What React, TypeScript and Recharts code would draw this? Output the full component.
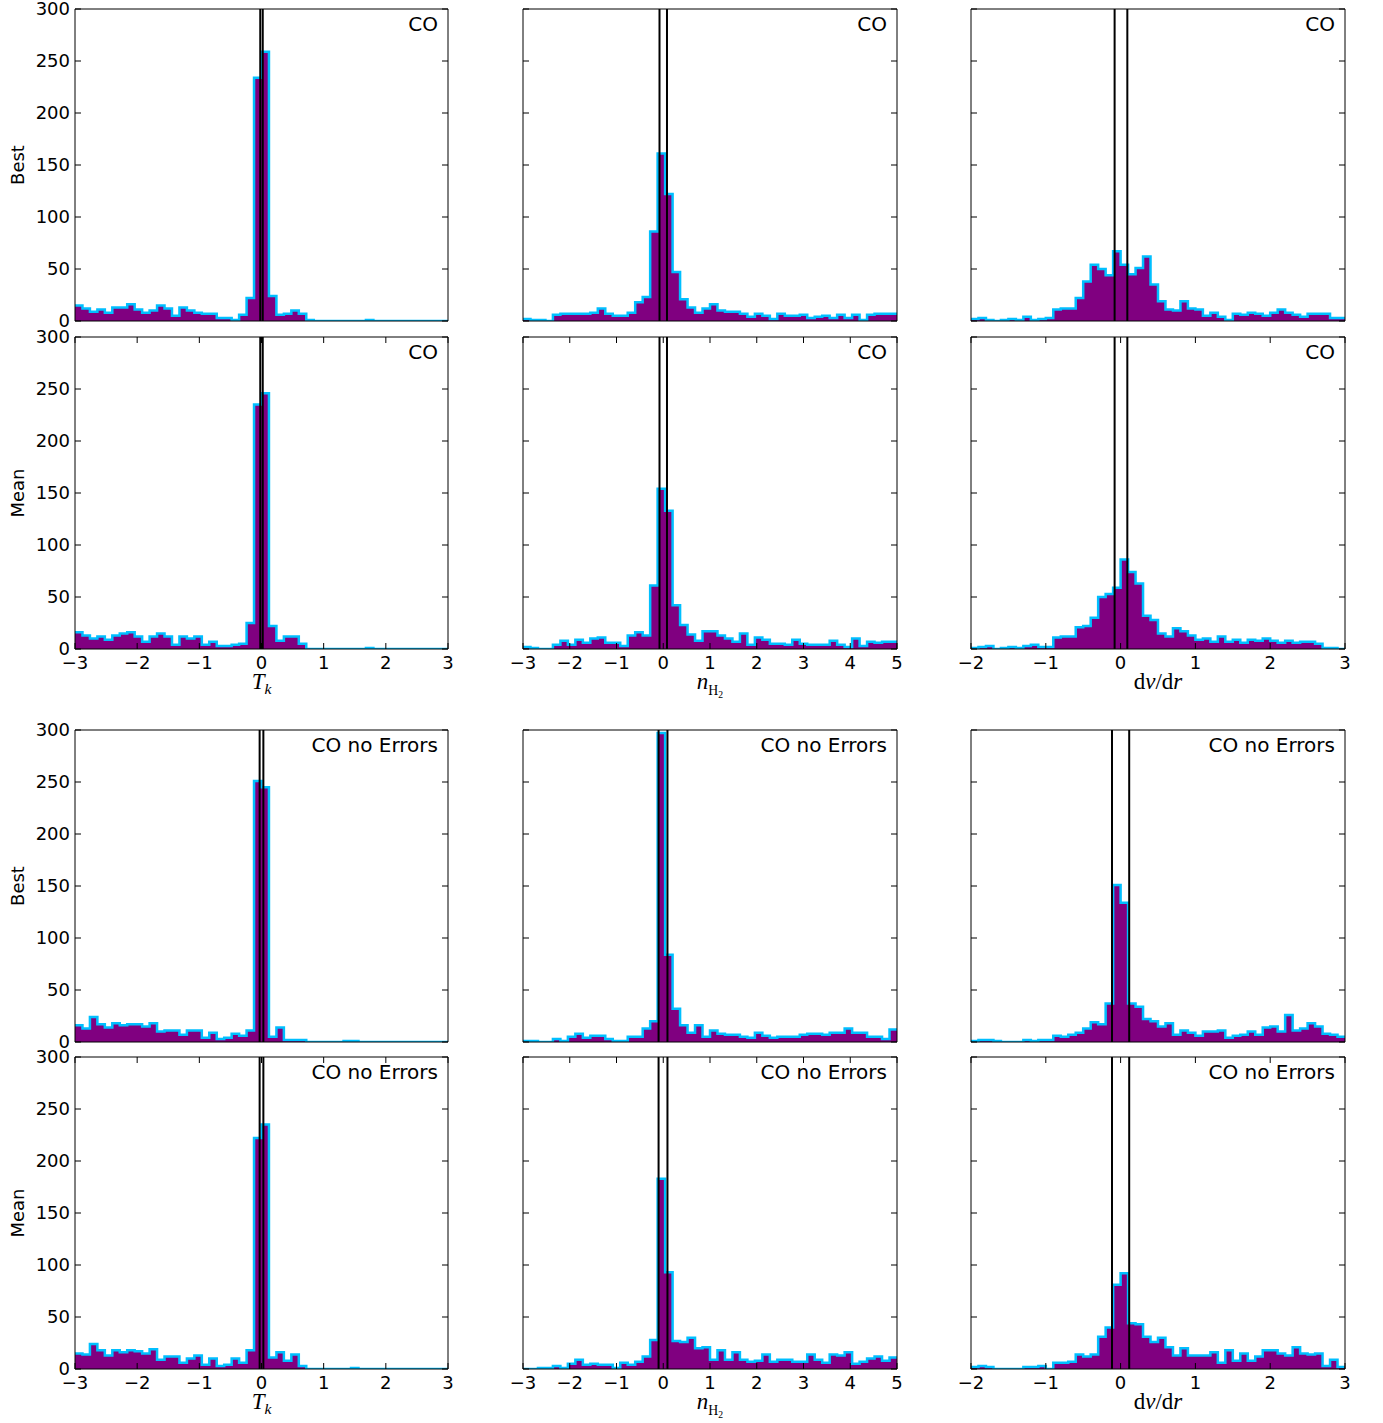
import React from "react";
import { ComposedChart, Area, XAxis, YAxis, ReferenceLine } from "recharts";

// axis ranges and tick labels
const tkRange = [-3, 3];
const nh2Range = [-3, 5];
const dvdrRange = [-2, 3];
const tkTicks = [-3, -2, -1, 0, 1, 2, 3];
const nh2Ticks = [-3, -2, -1, 0, 1, 2, 3, 4, 5];
const dvdrTicks = [-2, -1, 0, 1, 2, 3];
const countTicks = [0, 50, 100, 150, 200, 250, 300];

// histogram counts, 50 equal bins over each range
const bestTkCO = [15, 12, 9, 11, 8, 13, 13, 16, 11, 8, 10, 15, 12, 5, 13, 10, 8, 7, 7, 3, 3, 1, 6, 22, 234, 259, 24, 6, 7, 10, 7, 1, 0, 0, 0, 0, 0, 0, 0, 1, 0, 0, 0, 0, 0, 0, 0, 0, 0, 0];
const bestNh2CO = [2, 1, 1, 0, 6, 7, 7, 7, 7, 8, 12, 7, 5, 5, 8, 18, 23, 86, 161, 122, 47, 21, 13, 8, 12, 16, 10, 9, 9, 7, 4, 7, 5, 2, 7, 5, 5, 6, 3, 4, 5, 3, 6, 3, 6, 1, 6, 7, 7, 7];
const bestDvdrCO = [2, 3, 1, 0, 1, 2, 1, 4, 1, 2, 3, 11, 12, 12, 22, 38, 54, 50, 44, 67, 54, 45, 51, 62, 35, 19, 11, 10, 19, 12, 11, 5, 8, 4, 1, 7, 6, 8, 7, 5, 8, 11, 8, 6, 4, 7, 7, 7, 3, 3];
const meanTkCO = [16, 13, 10, 12, 9, 13, 15, 16, 12, 7, 12, 15, 12, 4, 12, 10, 12, 4, 7, 3, 3, 4, 5, 25, 235, 246, 22, 8, 12, 12, 5, 0, 0, 0, 0, 0, 0, 0, 0, 1, 0, 0, 0, 0, 0, 0, 0, 0, 0, 0];
const meanNh2CO = [2, 1, 0, 0, 4, 8, 4, 9, 6, 10, 11, 6, 6, 3, 13, 16, 13, 61, 154, 133, 42, 23, 14, 8, 17, 17, 13, 10, 7, 15, 4, 11, 9, 5, 5, 4, 9, 5, 4, 4, 4, 8, 4, 2, 10, 3, 7, 6, 7, 7];
const meanDvdrCO = [1, 2, 3, 0, 1, 2, 1, 3, 4, 2, 2, 11, 12, 12, 21, 22, 30, 50, 53, 59, 86, 74, 63, 32, 28, 15, 12, 20, 17, 13, 9, 10, 7, 12, 7, 9, 6, 9, 8, 10, 8, 6, 8, 6, 7, 7, 5, 1, 1, 0];
const bestTkNoErr = [16, 13, 24, 17, 14, 18, 16, 17, 17, 15, 18, 10, 11, 11, 7, 11, 11, 4, 9, 3, 4, 8, 6, 11, 251, 245, 5, 14, 2, 2, 2, 0, 0, 0, 0, 0, 1, 1, 0, 0, 0, 0, 0, 0, 0, 0, 0, 0, 0, 0];
const bestNh2NoErr = [1, 1, 0, 0, 3, 1, 5, 8, 4, 6, 6, 3, 1, 1, 5, 5, 13, 20, 297, 84, 32, 16, 9, 16, 5, 11, 8, 7, 7, 5, 4, 9, 6, 4, 5, 5, 5, 7, 8, 8, 7, 9, 9, 13, 9, 9, 5, 5, 3, 12];
const bestDvdrNoErr = [1, 2, 2, 1, 0, 0, 0, 2, 1, 2, 2, 6, 5, 7, 9, 13, 19, 17, 37, 151, 134, 37, 34, 22, 20, 15, 18, 7, 11, 9, 6, 10, 10, 11, 4, 6, 7, 10, 7, 14, 15, 10, 26, 11, 13, 18, 15, 8, 7, 5];
const meanTkNoErr = [15, 14, 24, 18, 13, 18, 16, 18, 17, 15, 19, 9, 12, 12, 6, 10, 13, 4, 10, 3, 4, 10, 6, 18, 222, 235, 11, 16, 8, 14, 3, 0, 0, 0, 0, 0, 0, 1, 0, 0, 0, 0, 0, 0, 0, 0, 0, 0, 0, 0];
const meanNh2NoErr = [0, 0, 1, 1, 3, 1, 5, 9, 4, 5, 4, 4, 1, 6, 4, 7, 12, 28, 183, 93, 27, 26, 30, 20, 21, 9, 18, 9, 16, 9, 7, 8, 14, 7, 9, 9, 7, 7, 14, 9, 6, 14, 13, 16, 5, 7, 10, 12, 8, 11];
const meanDvdrNoErr = [2, 3, 2, 0, 0, 0, 0, 2, 2, 3, 0, 6, 6, 7, 14, 12, 14, 31, 40, 81, 92, 44, 43, 31, 26, 30, 21, 13, 20, 13, 13, 13, 16, 6, 18, 8, 15, 8, 12, 18, 18, 15, 13, 21, 15, 14, 15, 3, 9, 2];

// vertical marker lines
const tkLinesCO = [-0.02, 0.02];
const nh2LinesCO = [-0.08, 0.08];
const dvdrLinesCO = [-0.08, 0.09];
const tkLinesNoErr = [-0.03, 0.03];
const nh2LinesNoErr = [-0.1, 0.09];
const dvdrLinesNoErr = [-0.115, 0.115];

const rowLabels = ["Best", "Mean", "Best", "Mean"];
const rowNotes = ["CO", "CO", "CO no Errors", "CO no Errors"];

const FILL = "#800080";
const EDGE = "#00bfff";
const SANS = "'DejaVu Sans', sans-serif";
const SERIF = "'Liberation Serif', 'DejaVu Serif', serif";
const TICK = 6;

const COL_LEFT = [75, 523, 971];
const COL_W = [373, 374, 374];
const ROW_TOP = [9, 337, 730, 1057];
const PLOT_H = 312;

const fmt = (v: number) => (v < 0 ? "\u2212" + Math.abs(v) : String(v));

function toSteps(counts: number[], range: number[]) {
  const w = (range[1] - range[0]) / counts.length;
  const out = [];
  for (let i = 0; i <= counts.length; i++) {
    out.push({ x: range[0] + i * w, y: counts[Math.min(i, counts.length - 1)] });
  }
  return out;
}

function XTitle({ col }: { col: number }) {
  if (col === 0)
    return (
      <span>
        <i>T</i>
        <span style={{ fontSize: "0.68em", position: "relative", top: 5 }}>
          <i>k</i>
        </span>
      </span>
    );
  if (col === 1)
    return (
      <span>
        <i>n</i>
        <span style={{ fontSize: "0.6em", position: "relative", top: 6 }}>
          H
          <span style={{ fontSize: "0.7em", position: "relative", top: 3 }}>2</span>
        </span>
      </span>
    );
  return (
    <span>
      d<i>v</i>/d<i>r</i>
    </span>
  );
}

interface PanelProps {
  row: number;
  col: number;
  counts: number[];
  range: number[];
  xTicks: number[];
  lines: number[];
}

function Panel({ row, col, counts, range, xTicks, lines }: PanelProps) {
  const padL = 70;
  const padR = 10;
  const padT = 12;
  const padB = 40;
  const left = COL_LEFT[col];
  const top = ROW_TOP[row];
  const width = COL_W[col];
  const showX = row === 1 || row === 3;
  const showY = col === 0;
  const data = toSteps(counts, range);

  const bottomTick = (p: any) => (
    <g>
      {showX && <line x1={p.x} y1={p.y} x2={p.x} y2={p.y - TICK} stroke="#000" />}
      {showX && (
        <text x={p.x} y={p.y + 20} textAnchor="middle" fontSize={18} fontFamily={SANS} fill="#000">
          {fmt(p.payload.value)}
        </text>
      )}
    </g>
  );
  const topTick = (p: any) => (
    <g>{showX && <line x1={p.x} y1={p.y} x2={p.x} y2={p.y + TICK} stroke="#000" />}</g>
  );
  const leftTick = (p: any) => (
    <g>
      <line x1={p.x} y1={p.y} x2={p.x + TICK} y2={p.y} stroke="#000" />
      {showY && (
        <text x={p.x - 5} y={p.y} dy="0.36em" textAnchor="end" fontSize={18} fontFamily={SANS} fill="#000">
          {p.payload.value}
        </text>
      )}
    </g>
  );
  const rightTick = (p: any) => (
    <g>
      <line x1={p.x} y1={p.y} x2={p.x - TICK} y2={p.y} stroke="#000" />
    </g>
  );

  const axisLine = { stroke: "#000", strokeWidth: 1 };

  return (
    <>
      <div style={{ position: "absolute", left: left - padL, top: top - padT }}>
        <ComposedChart
          width={width + padL + padR}
          height={PLOT_H + padT + padB}
          data={data}
          margin={{ top: padT - 1, right: padR - 1, bottom: padB - 1, left: padL - 1 }}
        >
          <XAxis
            xAxisId="b"
            type="number"
            dataKey="x"
            domain={range}
            ticks={xTicks}
            interval={0}
            height={1}
            tickSize={0}
            tickMargin={0}
            tickLine={false}
            axisLine={axisLine}
            tick={bottomTick}
            allowDataOverflow
          />
          <XAxis
            xAxisId="t"
            orientation="top"
            type="number"
            dataKey="x"
            domain={range}
            ticks={xTicks}
            interval={0}
            height={1}
            tickSize={0}
            tickMargin={0}
            tickLine={false}
            axisLine={axisLine}
            tick={topTick}
            allowDataOverflow
          />
          <YAxis
            yAxisId="l"
            type="number"
            domain={[0, 300]}
            ticks={countTicks}
            interval={0}
            width={1}
            tickSize={0}
            tickMargin={0}
            tickLine={false}
            axisLine={axisLine}
            tick={leftTick}
            allowDataOverflow
          />
          <YAxis
            yAxisId="r"
            orientation="right"
            type="number"
            domain={[0, 300]}
            ticks={countTicks}
            interval={0}
            width={1}
            tickSize={0}
            tickMargin={0}
            tickLine={false}
            axisLine={axisLine}
            tick={rightTick}
            allowDataOverflow
          />
          <Area
            xAxisId="b"
            yAxisId="l"
            type="stepAfter"
            dataKey="y"
            baseValue={0}
            fill={FILL}
            fillOpacity={1}
            stroke={EDGE}
            strokeWidth={2.5}
            isAnimationActive={false}
            dot={false}
            activeDot={false}
          />
          {lines.map((v) => (
            <ReferenceLine key={v} xAxisId="b" yAxisId="l" x={v} stroke="#000" strokeWidth={2} />
          ))}
        </ComposedChart>
      </div>
      <div
        style={{
          position: "absolute",
          left,
          top: top + 3,
          width: width - 10,
          textAlign: "right",
          fontFamily: SANS,
          fontSize: 20,
          lineHeight: "24px",
          whiteSpace: "nowrap",
        }}
      >
        {rowNotes[row]}
      </div>
      {showX && (
        <div
          style={{
            position: "absolute",
            left,
            top: top + PLOT_H + 21,
            width,
            textAlign: "center",
            fontFamily: SERIF,
            fontSize: 23,
            lineHeight: "23px",
            whiteSpace: "nowrap",
          }}
        >
          <XTitle col={col} />
        </div>
      )}
      {col === 0 && (
        <div
          style={{
            position: "absolute",
            left: 17,
            top: top + PLOT_H / 2,
            transform: "translate(-50%, -50%) rotate(-90deg)",
            fontFamily: SANS,
            fontSize: 18,
            whiteSpace: "nowrap",
          }}
        >
          {rowLabels[row]}
        </div>
      )}
    </>
  );
}

export default function App() {
  const panels = [
    { counts: bestTkCO, lines: tkLinesCO },
    { counts: bestNh2CO, lines: nh2LinesCO },
    { counts: bestDvdrCO, lines: dvdrLinesCO },
    { counts: meanTkCO, lines: tkLinesCO },
    { counts: meanNh2CO, lines: nh2LinesCO },
    { counts: meanDvdrCO, lines: dvdrLinesCO },
    { counts: bestTkNoErr, lines: tkLinesNoErr },
    { counts: bestNh2NoErr, lines: nh2LinesNoErr },
    { counts: bestDvdrNoErr, lines: dvdrLinesNoErr },
    { counts: meanTkNoErr, lines: tkLinesNoErr },
    { counts: meanNh2NoErr, lines: nh2LinesNoErr },
    { counts: meanDvdrNoErr, lines: dvdrLinesNoErr },
  ];
  const ranges = [tkRange, nh2Range, dvdrRange];
  const ticks = [tkTicks, nh2Ticks, dvdrTicks];

  return (
    <div
      style={{
        position: "absolute",
        left: 0,
        top: 0,
        width: 1383,
        height: 1423,
        background: "#fff",
        overflow: "hidden",
      }}
    >
      {panels.map((p, i) => {
        const row = Math.floor(i / 3);
        const col = i % 3;
        return (
          <Panel
            key={i}
            row={row}
            col={col}
            counts={p.counts}
            range={ranges[col]}
            xTicks={ticks[col]}
            lines={p.lines}
          />
        );
      })}
    </div>
  );
}
